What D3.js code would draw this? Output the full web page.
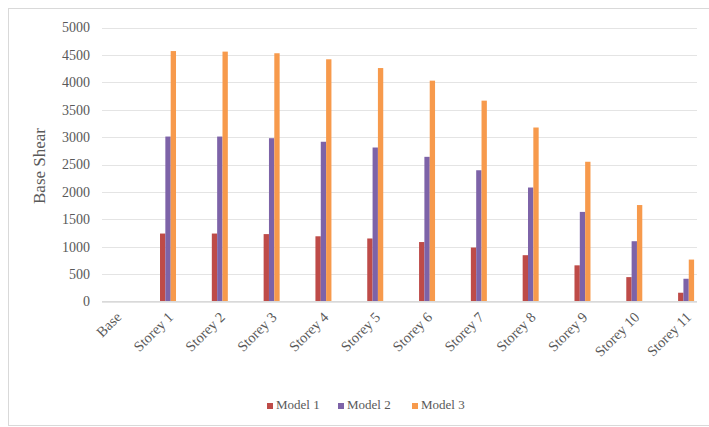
<!DOCTYPE html>
<meta charset="utf-8">
<style>
  body { margin: 0; background: #fff; }
  svg { font-family: "Liberation Serif", "DejaVu Serif", serif; }
  .grid line { stroke: #e4e4e4; stroke-width: 1px; shape-rendering: crispEdges; }
  .tick text { fill: #595959; }
</style>
<body>
<div id="chart"></div>
<script src="https://d3js.org/d3.v7.min.js"></script>
<script>
  // categories and series
  var storeys = ["Base", "Storey 1", "Storey 2", "Storey 3", "Storey 4", "Storey 5", "Storey 6",
                 "Storey 7", "Storey 8", "Storey 9", "Storey 10", "Storey 11"];
  var seriesNames = ["Model 1", "Model 2", "Model 3"];
  var model1 = [0, 1240, 1240, 1230, 1190, 1150, 1085, 985, 845, 660, 445, 160];
  var model2 = [0, 3010, 3010, 2980, 2915, 2810, 2640, 2395, 2080, 1635, 1100, 415];
  var model3 = [0, 4570, 4560, 4530, 4420, 4260, 4030, 3665, 3175, 2550, 1760, 765];
  var yTicks = [0, 500, 1000, 1500, 2000, 2500, 3000, 3500, 4000, 4500, 5000];
  var colors = ["#be4b48", "#7d63a8", "#f79a4c"];

  var W = 709, H = 427;
  var svg = d3.select("#chart").append("svg")
      .attr("width", W)
      .attr("height", H);

  // chart frame
  svg.append("rect")
      .attr("x", 8.5).attr("y", 8.5)
      .attr("width", 720).attr("height", 417)
      .attr("fill", "#fff")
      .attr("stroke", "#d9d9d9");

  var gridLeft = 102, gridRight = 697;

  var y = d3.scaleLinear().domain([0, 5000]).range([301.5, 27.5]);
  var x = d3.scaleBand().domain(storeys).range([90.3, 712]);
  var xs = d3.scaleBand().domain(seriesNames).range([x.bandwidth() / 2 - 8, x.bandwidth() / 2 + 8]);

  // gridlines
  svg.append("g").attr("class", "grid")
    .selectAll("line")
    .data(yTicks)
    .enter().append("line")
      .attr("x1", gridLeft).attr("x2", gridRight)
      .attr("y1", function(d) { return Math.round(y(d)) + 0.5; })
      .attr("y2", function(d) { return Math.round(y(d)) + 0.5; });

  // y axis labels
  var yAxis = d3.axisLeft(y).tickValues(yTicks).tickFormat(d3.format("d")).tickSize(0).tickPadding(0);
  svg.append("g")
      .attr("transform", "translate(90,0)")
      .call(yAxis)
      .call(function(g) { g.select(".domain").remove(); })
      .selectAll("text")
      .style("font-size", "14px")
      .style("font-family", "Liberation Serif, serif");

  svg.append("text")
      .attr("transform", "translate(45,166) rotate(-90)")
      .attr("text-anchor", "middle")
      .attr("fill", "#595959")
      .style("font-size", "17px")
      .text("Base Shear");

  // bars
  var rows = storeys.map(function(s, i) {
    return { storey: s, values: [model1[i], model2[i], model3[i]] };
  });

  var groups = svg.append("g").selectAll("g")
      .data(rows)
      .enter().append("g")
      .attr("transform", function(d) { return "translate(" + x(d.storey) + ",0)"; });

  groups.selectAll("rect")
      .data(function(d) { return d.values.map(function(v, k) { return { k: k, v: v }; }); })
      .enter().append("rect")
      .attr("x", function(d) { return xs(seriesNames[d.k]); })
      .attr("width", xs.bandwidth())
      .attr("y", function(d) { return y(d.v); })
      .attr("height", function(d) { return y(0) - y(d.v); })
      .attr("fill", function(d) { return colors[d.k]; });

  // x axis line
  svg.append("line")
      .attr("x1", gridLeft).attr("x2", gridRight)
      .attr("y1", 301.5).attr("y2", 301.5)
      .attr("stroke", "#d9d9d9");

  // x labels, rotated
  svg.append("g").selectAll("text")
      .data(storeys)
      .enter().append("text")
      .attr("transform", function(d) {
        return "translate(" + (x(d) + x.bandwidth() / 2 + 6) + ",318) rotate(-45)";
      })
      .attr("text-anchor", "end")
      .attr("fill", "#595959")
      .style("font-size", "14.5px")
      .text(String);

  // legend
  var legendX = [267, 338, 412];
  var legend = svg.append("g").selectAll("g")
      .data(seriesNames)
      .enter().append("g")
      .attr("transform", function(d, i) { return "translate(" + legendX[i] + ",409)"; });
  legend.append("rect")
      .attr("x", 0).attr("y", -6)
      .attr("width", 6).attr("height", 6)
      .attr("fill", function(d, i) { return colors[i]; });
  legend.append("text")
      .attr("x", 9).attr("y", 0)
      .attr("fill", "#595959")
      .style("font-size", "13px")
      .text(String);
</script>
</body>
